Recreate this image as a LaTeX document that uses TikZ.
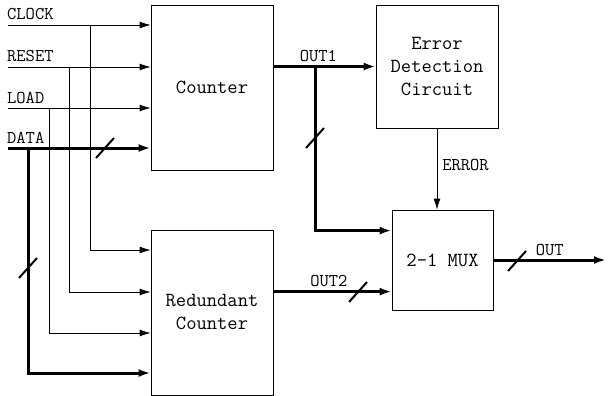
\documentclass[tikz,border=0pt]{standalone}
\usetikzlibrary{arrows.meta,positioning,calc}

% short slash across a bus line
\newcommand{\busslash}[1]{\draw[slashmark] (#1) +(-9,10) -- +(9,-10);}

\begin{document}
\begin{tikzpicture}[x=1pt, y=-1pt,
  font=\ttfamily\fontsize{18}{21}\selectfont,
  block/.style={draw, line width=0.8pt, inner sep=0pt, align=center,
                font=\ttfamily\fontsize{20}{23}\selectfont},
  wire/.style={line width=0.8pt},
  sig/.style={wire, -{Latex[length=11pt, width=7pt]}},
  bus/.style={line width=3pt},
  busarrow/.style={bus, -{Latex[length=12pt, width=8pt]}},
  slashmark/.style={line width=2pt},
  lbl/.style={inner sep=0pt}
]
\useasboundingbox (0,0) rectangle (608,396);

% --- Blocks ---
\node[block, minimum width=122pt, minimum height=165pt] (cnt)  at (212,87.5)  {Counter};
\node[block, minimum width=122pt, minimum height=165pt] (rcnt) at (212,312.5) {Redundant\\Counter};
\node[block, minimum width=122pt, minimum height=123pt] (edc)  at (437,66.5)  {Error\\Detection\\Circuit};
\node[block, minimum width=101pt, minimum height=100pt] (mux)  at (442.5,260) {2-1 MUX};

% --- Inputs ---
\coordinate (clk) at (8,25);
\coordinate (rst) at (8,67);
\coordinate (ld)  at (8,108);
\coordinate (dat) at (8,148);
\node[lbl, anchor=base west] (clklbl) at (7,20)  {CLOCK};
\node[lbl, anchor=base west] (rstlbl) at (7,62)  {RESET};
\node[lbl, anchor=base west] (ldlbl)  at (7,103) {LOAD};
\node[lbl, anchor=base west] (datlbl) at (7,143) {DATA};

% corners of the copies that go down to the redundant counter
\coordinate (clkdn) at (90,250);
\coordinate (rstdn) at (69,292);
\coordinate (lddn)  at (49,333);
\coordinate (datdn) at (28,373);

\draw[sig] (clk) -- (clk -| cnt.west);
\draw[sig] (rst) -- (rst -| cnt.west);
\draw[sig] (ld)  -- (ld -| cnt.west);
\draw[busarrow] (dat) -- (dat -| cnt.west);

\draw[sig] (clk -| clkdn) -- (clkdn) -- (clkdn -| rcnt.west);
\draw[sig] (rst -| rstdn) -- (rstdn) -- (rstdn -| rcnt.west);
\draw[sig] (ld -| lddn)   -- (lddn)  -- (lddn -| rcnt.west);
\draw[busarrow] (dat -| datdn) -- (datdn) -- (datdn -| rcnt.west);

\busslash{105,148}
\busslash{28,268}

% --- Outputs ---
\coordinate (muxa) at ($(mux.north west)+(0,21)$);
\coordinate (muxb) at ($(mux.north west)+(0,82)$);
\coordinate (o1br) at (315,66.5);
\coordinate (outend) at (606,260);

\draw[busarrow] (edc.west -| cnt.east) -- node[above, inner sep=3pt, pos=0.44]{OUT1} (edc.west);
\draw[busarrow] (o1br) |- (muxa);
\busslash{315,138}

\draw[busarrow] (muxb -| rcnt.east) -- node[above, inner sep=3pt, pos=0.47]{OUT2} (muxb);
\busslash{358,292}

\draw[sig] (edc.south) -- node[right, inner sep=5pt, pos=0.45]{ERROR} (edc.south |- mux.north);

\draw[busarrow] (mux.east) -- node[above, inner sep=3pt, pos=0.5]{OUT} (outend);
\busslash{517,261}

\end{tikzpicture}
\end{document}
